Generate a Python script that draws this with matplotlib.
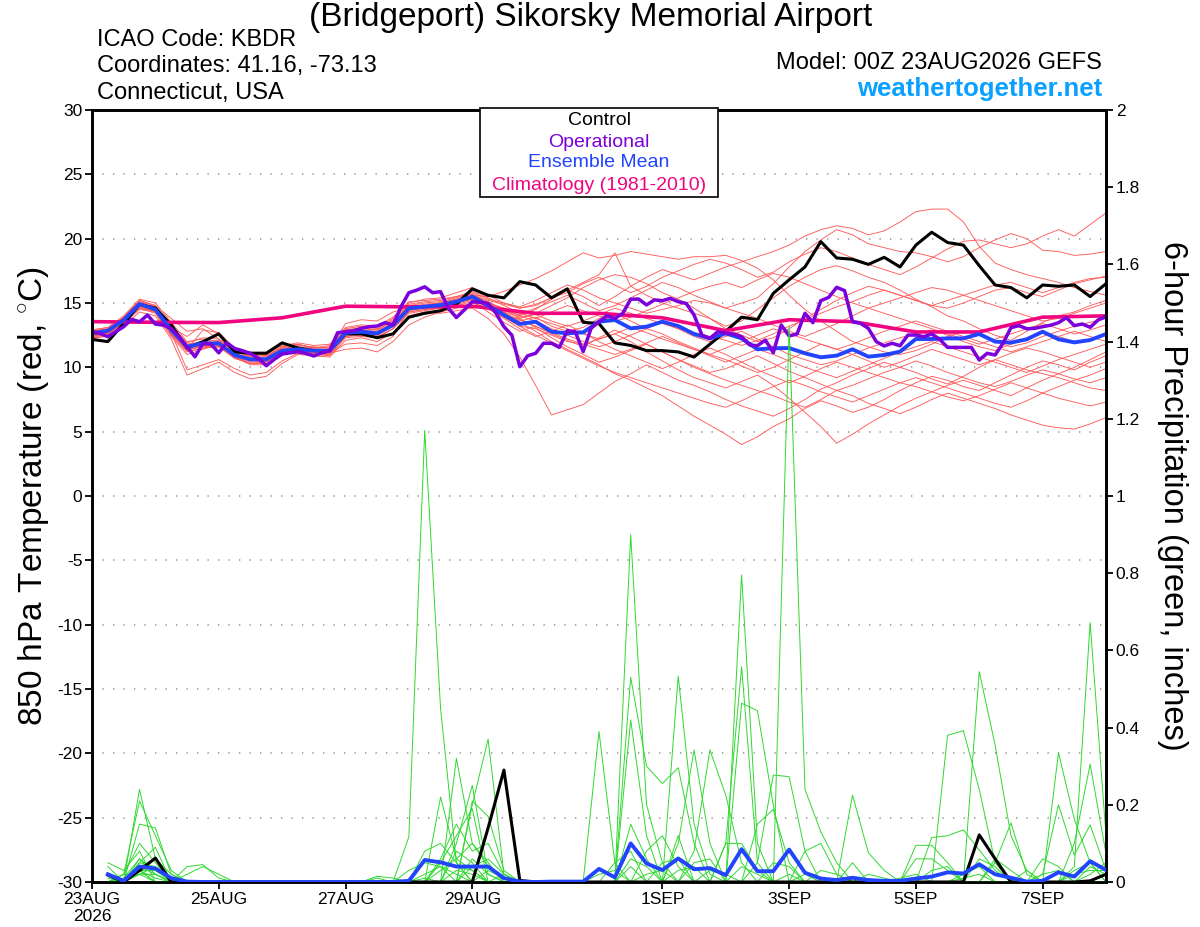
import numpy as np
import matplotlib
matplotlib.use('Agg')
import matplotlib.pyplot as plt
from matplotlib.patches import Rectangle

plt.rcParams['font.family'] = ['Liberation Sans', 'DejaVu Sans']
plt.rcParams['axes.unicode_minus'] = False
plt.rcParams['mathtext.fontset'] = 'custom'
plt.rcParams['mathtext.rm'] = 'Liberation Sans'

# ---------------- data ----------------
hours6 = np.arange(65) * 6          # 6-hourly, 0..384 h
hours3 = np.arange(129) * 3         # 3-hourly (operational)
precip_hours = np.arange(1, 65) * 6 # 6-h precip, 6..384 h
clim_hours = np.arange(17) * 24     # daily climatology

tick_hours = [0, 48, 96, 144, 216, 264, 312, 360]
tick_labels = ['23AUG\n2026', '25AUG', '27AUG', '29AUG', '1SEP', '3SEP', '5SEP', '7SEP']

climatology = [13.55, 13.5, 13.48, 13.85, 14.75, 14.7, 14.75, 14.2, 14.2,
               13.85, 12.85, 13.7, 13.55, 12.75, 12.75, 13.9, 14.0]

control_t = [12.17, 12.0, 13.4, 14.9, 14.6, 13.3, 11.5, 12.0, 12.6, 11.2, 11.1, 11.1, 11.9,
             11.5, 11.3, 11.3, 12.6, 12.6, 12.3, 12.6, 13.9, 14.2, 14.4, 14.9, 16.1, 15.6,
             15.4, 16.66, 16.4, 15.4, 16.1, 13.5, 13.4, 11.9, 11.7, 11.3, 11.3, 11.2, 10.8,
             11.8, 12.8, 13.9, 13.7, 15.75, 16.8, 17.8, 19.77, 18.5, 18.4, 18.0, 18.55, 17.8,
             19.5, 20.5, 19.7, 19.5, 17.9, 16.4, 16.2, 15.4, 16.4, 16.3, 16.4, 15.5, 16.5]

mean_t = [12.64, 12.84, 13.67, 14.92, 14.5, 12.9, 11.6, 11.86, 11.86, 10.95, 10.62, 10.62, 11.29,
          11.4, 11.29, 11.29, 12.69, 12.77, 12.64, 13.28, 14.58, 14.71, 14.84, 15.1, 15.49, 14.8,
          14.07, 13.37, 13.55, 12.77, 12.64, 12.72, 13.55, 13.68, 13.03, 13.16, 13.55, 13.21, 12.59,
          12.25, 12.64, 12.25, 11.4, 11.48, 11.5, 11.09, 10.78, 10.91, 11.4, 10.83, 10.96, 11.22,
          12.2, 12.2, 12.25, 12.25, 12.59, 12.0, 11.92, 12.18, 12.77, 12.18, 11.94, 12.12, 12.59]

operational_t = [12.77, 12.64, 12.38, 12.77, 13.16, 13.73, 13.54, 14.06, 13.36, 13.28,
                 13.03, 12.38, 11.6, 10.82, 11.86, 11.81, 11.13, 11.91, 11.47, 11.29,
                 11.08, 10.7, 10.12, 10.62, 11.03, 11.13, 11.21, 11.08, 10.88, 11.13,
                 11.29, 12.69, 12.77, 12.84, 13.03, 13.16, 13.21, 13.47, 13.29, 14.71,
                 15.8, 16.0, 16.26, 15.8, 15.88, 14.58, 13.87, 14.46, 15.1, 15.05,
                 14.97, 14.2, 13.16, 12.5, 10.05, 10.9, 11.09, 11.87, 11.87, 11.55,
                 12.85, 12.77, 11.22, 13.03, 13.55, 14.0, 13.8, 14.2, 15.29, 15.31,
                 14.85, 15.24, 15.18, 15.36, 15.1, 14.97, 14.07, 12.5, 12.25, 12.77,
                 12.64, 12.59, 12.38, 11.74, 11.68, 12.12, 11.14, 13.29, 12.44, 12.59,
                 14.2, 13.47, 15.18, 15.44, 16.22, 15.96, 13.55, 13.42, 13.03, 12.0,
                 11.66, 11.87, 11.68, 12.51, 12.51, 12.38, 12.59, 12.18, 11.55, 11.55,
                 11.55, 11.55, 10.57, 11.09, 10.96, 11.87, 13.08, 13.24, 13.0, 13.03,
                 13.16, 13.27, 13.47, 13.86, 13.24, 13.37, 13.11, 13.68, 13.94]

# ensemble member 850 hPa temperatures (6-hourly)
t_m01 = [12.9, 13.1, 14.0, 15.3, 15.0, 13.5, 12.0, 12.2, 12.0, 11.4, 11.0, 10.9, 11.6,
         11.8, 11.5, 11.7, 13.0, 13.2, 13.0, 13.8, 15.0, 15.3, 15.4, 15.8, 16.2, 15.6,
         15.0, 14.6, 14.9, 15.4, 15.8, 16.5, 17.0, 16.4, 15.8, 16.3, 17.0, 17.5, 18.0,
         18.4, 18.1, 17.6, 17.0, 17.4, 18.2, 18.8, 19.3, 19.0, 18.5, 18.0, 17.6, 17.2,
         17.8, 18.5, 19.2, 19.8, 19.9, 19.6, 19.3, 19.6, 20.2, 20.7, 20.2, 21.1, 22.0]
t_m02 = [12.4, 12.6, 13.5, 14.7, 14.3, 12.6, 11.2, 11.5, 11.6, 10.7, 10.3, 10.4, 11.0,
         11.2, 11.1, 11.0, 12.4, 12.6, 12.4, 13.0, 14.3, 14.5, 14.6, 15.0, 15.3, 14.9,
         14.6, 14.0, 14.5, 15.3, 16.0, 15.5, 14.8, 15.5, 16.3, 17.0, 17.6, 17.2, 16.8,
         17.3, 17.8, 18.2, 18.6, 19.0, 19.5, 20.2, 20.7, 21.0, 20.8, 20.3, 20.6, 21.3,
         22.1, 22.3, 22.3, 21.3, 19.4, 18.1, 17.6, 17.2, 16.9, 16.6, 16.2, 15.9, 15.6]
t_m03 = [12.8, 13.0, 13.9, 15.1, 14.8, 13.2, 11.9, 12.3, 12.2, 11.2, 10.8, 10.8, 11.5,
         11.6, 11.5, 11.6, 12.9, 13.0, 12.9, 13.6, 14.8, 15.0, 15.1, 15.4, 15.8, 15.3,
         15.0, 14.7, 15.2, 15.8, 16.4, 16.0, 15.4, 15.0, 14.6, 14.2, 14.5, 14.8, 15.2,
         15.0, 14.6, 15.0, 15.4, 16.5, 17.8, 19.0, 19.9, 20.7, 20.3, 19.6, 19.3, 19.0,
         18.9, 18.6, 18.2, 18.6, 19.3, 19.9, 20.4, 20.0, 19.1, 19.0, 18.7, 18.8, 19.0]
t_m04 = [12.2, 12.5, 13.4, 14.6, 14.2, 12.4, 11.0, 11.4, 11.8, 10.8, 10.2, 10.2, 11.0,
         11.1, 11.0, 11.0, 12.4, 12.5, 12.3, 13.0, 14.2, 14.4, 14.6, 14.8, 15.1, 14.5,
         14.0, 13.8, 14.2, 14.8, 15.4, 16.2, 16.8, 17.2, 17.0, 16.5, 15.8, 15.3, 14.6,
         13.8, 13.0, 12.5, 12.0, 12.3, 13.0, 13.8, 14.5, 15.2, 15.8, 16.3, 16.0, 15.6,
         15.2, 14.8, 14.6, 15.0, 15.5, 16.0, 16.2, 15.8, 15.5, 16.0, 16.5, 16.8, 17.1]
t_m05 = [12.7, 12.9, 13.8, 15.0, 14.7, 13.3, 11.8, 12.0, 12.1, 11.3, 10.9, 10.7, 11.4,
         11.5, 11.4, 11.4, 13.4, 13.7, 13.6, 14.3, 14.7, 14.9, 15.0, 15.3, 15.6, 15.5,
         15.9, 16.4, 16.9, 17.5, 18.2, 18.9, 18.5, 18.7, 19.0, 18.8, 18.6, 18.4, 18.6,
         18.6, 18.7, 18.3, 17.7, 16.8, 15.6, 14.5, 13.6, 12.8, 12.0, 11.6, 11.2, 11.0,
         11.3, 11.8, 12.4, 12.8, 12.5, 12.0, 11.6, 11.9, 12.4, 12.8, 13.2, 13.5, 13.8]
t_m06 = [12.5, 12.7, 13.6, 14.8, 14.6, 13.0, 11.5, 11.7, 11.7, 10.9, 10.5, 10.6, 11.3,
         11.4, 11.2, 11.3, 12.6, 12.8, 12.7, 13.4, 14.5, 14.6, 14.9, 15.2, 15.6, 15.2,
         14.9, 14.6, 14.8, 15.4, 16.0, 16.6, 17.2, 18.9, 16.3, 15.6, 15.0, 14.6, 14.2,
         13.8, 13.2, 13.6, 14.5, 15.4, 16.3, 17.0, 17.6, 17.9, 17.5, 17.0, 16.6, 16.0,
         15.3, 14.7, 14.0, 13.6, 13.0, 12.5, 12.1, 12.8, 13.5, 14.0, 14.3, 14.8, 15.2]
t_m07 = [12.3, 12.4, 13.2, 14.3, 14.0, 12.2, 9.4, 9.9, 10.4, 9.6, 9.1, 9.3, 10.3,
         11.0, 10.9, 10.8, 12.1, 12.3, 12.0, 12.7, 14.0, 14.3, 14.2, 14.4, 14.6, 13.8,
         12.6, 10.8, 8.6, 6.3, 6.7, 7.1, 8.0, 8.9, 9.5, 10.2, 9.6, 9.0, 8.6,
         8.1, 7.5, 7.0, 6.6, 6.2, 6.8, 7.5, 8.3, 8.8, 9.4, 9.9, 10.4, 10.0,
         9.6, 9.1, 8.7, 9.3, 10.0, 10.6, 10.2, 9.8, 9.5, 9.2, 8.8, 8.4, 8.2]
t_m08 = [12.6, 12.9, 13.9, 15.2, 14.8, 13.1, 12.4, 13.3, 12.6, 11.4, 10.9, 11.0, 11.7,
         11.9, 11.7, 11.8, 13.1, 13.3, 13.2, 13.9, 15.1, 15.2, 15.3, 15.5, 15.7, 15.0,
         14.3, 13.5, 12.8, 12.0, 11.4, 10.8, 10.2, 9.5, 9.0, 8.4, 7.8, 7.0, 6.2,
         5.5, 4.8, 4.0, 4.6, 5.4, 6.0, 6.8, 7.4, 7.0, 6.5, 6.9, 7.5, 8.2,
         8.8, 9.3, 9.0, 8.5, 8.2, 8.8, 9.4, 10.0, 10.5, 10.2, 9.8, 10.4, 10.9]
t_m09 = [12.4, 12.7, 13.5, 14.6, 14.4, 12.8, 11.3, 11.7, 11.6, 10.8, 10.4, 10.5, 11.2,
         11.3, 11.1, 11.2, 12.6, 12.7, 12.5, 13.2, 14.4, 14.6, 14.7, 15.0, 15.3, 14.6,
         13.9, 13.2, 13.0, 12.5, 12.0, 11.8, 12.2, 12.6, 12.0, 11.2, 10.5, 9.8, 9.2,
         8.8, 8.4, 8.9, 9.4, 8.6, 7.6, 6.5, 5.4, 4.1, 4.8, 5.6, 6.3, 7.0,
         7.6, 8.1, 8.6, 9.0, 8.6, 8.2, 7.8, 8.4, 9.0, 9.5, 10.0, 10.6, 11.2]
t_m10 = [12.5, 12.6, 13.4, 14.5, 14.3, 12.7, 9.8, 10.2, 10.6, 9.9, 9.4, 9.6, 10.5,
         11.1, 11.0, 10.9, 12.3, 12.4, 12.3, 13.0, 14.3, 14.5, 14.6, 14.9, 15.2, 14.3,
         13.5, 12.8, 13.2, 12.6, 12.1, 11.6, 12.3, 12.9, 12.4, 11.8, 11.2, 10.6, 10.0,
         9.5, 9.0, 8.6, 8.2, 7.8, 7.3, 6.9, 7.5, 8.2, 7.8, 7.2, 6.8, 6.4,
         6.9, 7.5, 8.0, 7.6, 7.2, 6.8, 6.3, 5.9, 5.5, 5.3, 5.2, 5.6, 6.1]
t_m11 = [12.7, 12.8, 13.6, 14.8, 14.6, 13.0, 11.6, 11.8, 12.0, 11.1, 10.7, 10.7, 11.4,
         11.5, 11.3, 11.4, 12.7, 12.8, 12.6, 13.3, 14.6, 14.8, 14.9, 15.2, 15.5, 14.9,
         14.2, 13.6, 13.9, 13.2, 12.8, 13.1, 13.8, 14.2, 13.6, 13.0, 13.5, 13.0, 12.4,
         12.0, 12.4, 12.8, 12.2, 11.6, 11.0, 10.6, 10.2, 10.5, 11.0, 11.5, 11.9, 12.3,
         12.6, 12.9, 12.5, 12.0, 11.6, 11.3, 11.8, 12.3, 12.7, 12.4, 12.0, 12.2, 12.6]
t_m12 = [12.9, 13.1, 13.8, 14.9, 14.4, 12.6, 11.4, 12.9, 12.7, 11.5, 11.1, 10.9, 11.5,
         11.7, 11.6, 11.5, 12.8, 12.9, 12.8, 13.5, 14.7, 14.8, 15.0, 15.3, 15.7, 15.1,
         14.5, 13.8, 13.1, 12.3, 11.6, 11.0, 10.4, 10.8, 11.3, 11.8, 11.2, 10.6, 10.1,
         9.6, 9.9, 10.4, 10.9, 10.3, 9.7, 9.2, 8.7, 8.2, 8.6, 9.1, 9.6, 10.0,
         10.5, 10.1, 9.6, 9.2, 8.8, 8.5, 8.9, 9.4, 9.8, 9.5, 9.1, 8.8, 9.2]
t_m13 = [12.6, 12.7, 13.7, 14.9, 14.5, 12.8, 11.4, 11.6, 11.8, 11.0, 10.5, 10.6, 11.3,
         11.4, 11.3, 11.2, 12.6, 12.7, 12.6, 13.3, 14.6, 14.7, 14.8, 15.1, 15.4, 14.9,
         14.4, 14.1, 14.6, 15.1, 15.6, 15.0, 14.4, 14.8, 15.4, 16.0, 16.6, 16.2, 15.6,
         15.1, 14.6, 14.2, 13.8, 13.3, 12.8, 12.4, 12.9, 13.4, 14.0, 14.6, 15.0, 15.4,
         15.8, 16.2, 16.0, 15.6, 15.2, 14.8, 14.4, 14.0, 13.6, 13.8, 14.2, 14.6, 15.0]
t_m14 = [12.3, 12.6, 13.6, 14.8, 14.3, 12.5, 11.2, 11.5, 11.6, 10.7, 10.3, 10.3, 11.0,
         11.2, 11.1, 11.1, 11.4, 11.5, 11.2, 12.0, 13.3, 13.9, 14.3, 14.6, 15.0, 14.6,
         13.8, 13.0, 12.4, 12.8, 13.3, 12.7, 12.0, 11.4, 10.9, 10.4, 9.9, 10.4, 11.0,
         11.5, 11.0, 10.4, 9.8, 9.3, 8.8, 9.3, 9.9, 10.4, 10.0, 9.6, 9.2, 8.8,
         8.5, 8.1, 7.7, 7.4, 7.8, 8.3, 8.8, 8.4, 8.0, 7.6, 7.3, 7.0, 7.3]
t_m15 = [12.8, 13.0, 13.9, 15.2, 14.8, 13.8, 12.8, 13.0, 12.2, 11.3, 10.8, 10.8, 11.6,
         11.8, 11.5, 11.5, 12.9, 13.1, 12.9, 13.7, 14.9, 15.1, 15.2, 15.5, 15.9, 15.4,
         14.8, 14.2, 13.8, 14.3, 14.8, 14.4, 14.0, 13.6, 13.9, 14.4, 14.9, 15.4, 15.9,
         16.3, 16.6, 16.2, 16.8, 17.3, 17.0, 16.5, 16.0, 15.5, 15.0, 14.6, 14.2, 13.8,
         13.4, 13.0, 12.6, 12.2, 11.8, 12.2, 12.6, 13.0, 13.4, 13.0, 12.6, 12.9, 13.3]
t_m16 = [12.5, 12.8, 13.7, 14.9, 14.6, 13.0, 11.7, 12.0, 11.7, 10.9, 10.6, 10.5, 11.2,
         11.3, 11.2, 11.3, 12.7, 12.8, 12.6, 13.3, 14.6, 14.7, 14.8, 15.1, 15.5, 15.0,
         14.5, 14.0, 13.6, 13.0, 12.5, 12.0, 11.6, 12.0, 12.5, 13.0, 12.6, 12.0, 11.5,
         11.0, 10.6, 10.1, 9.6, 10.0, 10.6, 11.2, 11.8, 11.4, 11.0, 10.5, 10.0, 10.4,
         10.9, 11.4, 11.0, 10.6, 10.2, 10.6, 11.1, 11.5, 11.2, 10.8, 10.4, 10.0, 10.4]
t_m17 = [12.4, 12.7, 13.6, 14.8, 14.4, 12.8, 11.5, 11.8, 11.9, 11.0, 10.5, 10.5, 11.2,
         11.4, 11.3, 11.3, 12.7, 12.8, 12.6, 13.3, 14.6, 14.7, 14.8, 15.1, 15.4, 14.9,
         14.3, 13.9, 14.1, 13.6, 13.2, 13.6, 14.1, 14.6, 14.2, 13.8, 13.4, 13.0, 12.7,
         12.4, 12.1, 11.7, 12.1, 12.6, 13.2, 13.7, 14.2, 14.7, 15.1, 15.6, 16.0, 15.6,
         15.2, 14.8, 15.2, 15.6, 16.0, 16.4, 16.6, 16.2, 15.8, 16.2, 16.6, 16.9, 17.0]
t_m18 = [12.6, 12.8, 13.7, 14.9, 14.5, 12.9, 11.6, 11.9, 11.8, 10.9, 10.6, 10.6, 11.3,
         11.4, 11.3, 11.3, 12.7, 12.8, 12.7, 13.4, 14.7, 14.8, 14.9, 15.2, 15.6, 14.7,
         13.9, 13.2, 12.5, 11.9, 11.3, 10.7, 10.1, 9.6, 9.2, 8.8, 8.4, 8.0, 7.6,
         7.2, 6.9, 7.4, 8.0, 8.5, 9.0, 8.6, 8.1, 7.7, 7.3, 7.8, 8.3, 8.8,
         9.2, 8.8, 8.4, 8.0, 7.6, 7.2, 6.9, 7.4, 8.0, 8.5, 9.0, 9.4, 9.9]
t_m19 = [12.7, 12.9, 13.8, 15.0, 14.6, 12.9, 11.6, 11.8, 11.9, 11.1, 10.6, 10.7, 11.4,
         11.5, 11.4, 11.4, 12.8, 12.9, 12.7, 13.4, 14.7, 14.8, 14.9, 15.2, 15.6, 15.0,
         14.6, 14.2, 13.8, 13.4, 13.0, 12.6, 12.2, 12.6, 13.1, 12.7, 12.2, 11.8, 11.4,
         11.0, 11.5, 12.0, 12.5, 13.0, 12.6, 12.2, 11.8, 11.4, 11.8, 12.3, 12.8, 13.2,
         13.6, 13.2, 12.8, 12.4, 12.0, 11.6, 11.2, 11.6, 12.0, 12.4, 12.8, 12.4, 12.0]
t_m20 = [12.4, 12.6, 13.5, 14.7, 14.3, 12.7, 11.4, 11.6, 11.7, 10.8, 10.3, 10.4, 11.1,
         11.3, 11.1, 11.1, 11.8, 11.9, 11.7, 12.4, 14.5, 14.6, 14.7, 15.0, 15.4, 14.8,
         14.2, 13.7, 13.2, 12.7, 12.2, 11.8, 11.4, 11.0, 11.4, 11.9, 12.4, 11.9, 11.4,
         10.9, 10.4, 10.9, 11.4, 11.0, 10.5, 10.0, 9.6, 9.2, 9.7, 10.2, 10.7, 11.2,
         11.6, 12.0, 11.6, 11.2, 10.8, 10.4, 10.0, 9.6, 10.1, 10.6, 11.0, 11.4, 11.8]

temp_members = [t_m01, t_m02, t_m03, t_m04, t_m05, t_m06, t_m07, t_m08, t_m09, t_m10,
                t_m11, t_m12, t_m13, t_m14, t_m15, t_m16, t_m17, t_m18, t_m19, t_m20]

# 6-hour precipitation (inches), valid 6..384 h
control_p = [0.018, 0, 0.03, 0.062, 0, 0, 0, 0, 0, 0, 0, 0, 0, 0, 0, 0,
             0, 0, 0, 0, 0, 0, 0, 0, 0.14, 0.29, 0.004, 0, 0, 0, 0, 0,
             0, 0, 0, 0, 0, 0, 0, 0, 0, 0, 0, 0, 0, 0, 0, 0,
             0, 0, 0, 0, 0, 0, 0, 0.122, 0.06, 0, 0, 0, 0, 0, 0.003, 0.02]
mean_p = [0.02, 0.003, 0.04, 0.035, 0.01, 0.001, 0, 0, 0, 0, 0, 0, 0, 0, 0, 0,
          0, 0, 0, 0.003, 0.057, 0.051, 0.04, 0.04, 0.04, 0.01, 0.001, 0, 0.001, 0.001, 0.001, 0.034,
          0.012, 0.1, 0.048, 0.031, 0.061, 0.033, 0.036, 0.018, 0.085, 0.028, 0.028, 0.084, 0.024, 0.009, 0.005, 0.011,
          0.005, 0.003, 0.003, 0.009, 0.014, 0.025, 0.022, 0.046, 0.02, 0.011, 0.001, 0.003, 0.025, 0.014, 0.054, 0.031]

p_g01 = [0, 0, 0.24, 0.06, 0, 0, 0, 0, 0, 0, 0, 0, 0, 0, 0, 0,
         0, 0, 0, 0.117, 1.17, 0.45, 0.05, 0, 0, 0, 0, 0, 0, 0, 0, 0,
         0, 0.9, 0.2, 0.05, 0, 0, 0, 0, 0, 0, 0, 0.02, 0, 0, 0, 0,
         0, 0, 0, 0, 0, 0, 0, 0.545, 0.355, 0.12, 0.03, 0, 0, 0, 0, 0]
p_g02 = [0, 0.02, 0.21, 0.12, 0.03, 0, 0, 0, 0, 0, 0, 0, 0, 0, 0, 0,
         0, 0, 0, 0, 0, 0.22, 0.06, 0.03, 0, 0, 0, 0, 0, 0, 0, 0,
         0, 0, 0, 0, 0.533, 0.15, 0.02, 0, 0.795, 0.1, 0, 0, 0, 0, 0, 0,
         0, 0, 0, 0, 0, 0, 0, 0, 0, 0, 0, 0, 0, 0.04, 0.672, 0.12]
p_g03 = [0, 0, 0.15, 0.14, 0.02, 0, 0, 0, 0, 0, 0, 0, 0, 0, 0, 0,
         0, 0, 0, 0, 0, 0, 0.32, 0.1, 0.04, 0, 0, 0, 0, 0, 0, 0,
         0, 0.53, 0.3, 0.255, 0.296, 0.1, 0, 0, 0.463, 0.444, 0.2, 0, 0, 0, 0, 0,
         0, 0, 0, 0, 0, 0.38, 0.392, 0.24, 0.05, 0, 0, 0, 0, 0, 0, 0]
p_g04 = [0.05, 0.03, 0.08, 0, 0, 0, 0, 0, 0, 0, 0, 0, 0, 0, 0, 0,
         0, 0, 0, 0, 0, 0, 0, 0.2, 0.37, 0.02, 0, 0, 0, 0, 0, 0,
         0, 0, 0, 0, 0, 0, 0, 0, 0, 0, 0, 1.44, 0.24, 0.13, 0.05, 0,
         0, 0, 0, 0, 0, 0, 0, 0, 0, 0, 0, 0, 0.335, 0.163, 0.05, 0]
p_g05 = [0.04, 0, 0.06, 0.03, 0, 0, 0, 0, 0, 0, 0, 0, 0, 0, 0, 0,
         0, 0, 0, 0, 0, 0, 0.1, 0.25, 0.02, 0, 0, 0, 0, 0, 0, 0.39,
         0.05, 0, 0, 0, 0, 0, 0, 0.1, 0.558, 0.05, 0, 0, 0, 0, 0, 0.225,
         0.076, 0.03, 0, 0, 0, 0, 0, 0, 0, 0, 0, 0, 0, 0, 0, 0]
p_g06 = [0, 0, 0.05, 0.09, 0, 0, 0, 0, 0, 0, 0, 0, 0, 0, 0, 0,
         0, 0, 0, 0, 0, 0.05, 0.12, 0.19, 0, 0, 0, 0, 0, 0, 0, 0,
         0, 0.42, 0.12, 0, 0.1, 0.342, 0.1, 0, 0, 0, 0, 0, 0, 0, 0, 0,
         0, 0, 0, 0, 0, 0, 0, 0, 0, 0, 0, 0, 0, 0.1, 0.305, 0.073]
p_g07 = [0, 0, 0.03, 0, 0, 0.04, 0.045, 0.01, 0, 0, 0, 0, 0, 0, 0, 0,
         0, 0, 0, 0, 0, 0, 0, 0.21, 0.17, 0.03, 0, 0, 0, 0, 0, 0,
         0, 0, 0, 0, 0, 0.08, 0.342, 0.225, 0.05, 0, 0, 0, 0, 0, 0, 0,
         0, 0, 0, 0, 0.115, 0.12, 0.135, 0.083, 0.03, 0, 0, 0, 0, 0, 0, 0]
p_g08 = [0, 0.02, 0.1, 0.05, 0, 0, 0, 0, 0, 0, 0, 0, 0, 0, 0, 0,
         0, 0, 0, 0, 0.08, 0.1, 0.05, 0, 0, 0, 0, 0, 0, 0, 0, 0,
         0, 0, 0, 0, 0.12, 0, 0, 0, 0, 0.05, 0.277, 0.273, 0.08, 0, 0, 0,
         0, 0, 0, 0.095, 0.095, 0.05, 0, 0, 0, 0, 0, 0.02, 0.2, 0.07, 0.148, 0.03]
p_g09 = [0, 0, 0.04, 0.02, 0, 0, 0, 0, 0, 0, 0, 0, 0, 0, 0, 0,
         0, 0, 0, 0, 0, 0.06, 0.15, 0.08, 0.1, 0.02, 0, 0, 0, 0, 0, 0,
         0, 0, 0.08, 0.12, 0.04, 0, 0, 0, 0, 0.15, 0.188, 0.05, 0, 0, 0, 0.05,
         0, 0, 0, 0, 0, 0, 0, 0.06, 0.04, 0, 0, 0, 0, 0, 0.02, 0.05]
p_g10 = [0.02, 0, 0.05, 0.04, 0, 0, 0, 0, 0, 0, 0, 0, 0, 0, 0, 0,
         0, 0, 0, 0.03, 0.05, 0.04, 0, 0, 0, 0, 0, 0, 0, 0, 0, 0,
         0, 0.15, 0.06, 0, 0, 0, 0, 0, 0, 0, 0, 0, 0.08, 0.1, 0.02, 0,
         0, 0, 0, 0, 0, 0, 0, 0, 0, 0, 0, 0.06, 0.04, 0, 0, 0.02]
p_g11 = [0, 0.01, 0.03, 0.03, 0.01, 0, 0, 0, 0, 0, 0, 0, 0, 0, 0, 0,
         0, 0, 0, 0, 0, 0, 0.08, 0.05, 0, 0.02, 0, 0, 0, 0, 0, 0,
         0.05, 0.08, 0, 0, 0, 0, 0, 0, 0, 0, 0, 0, 0, 0, 0, 0,
         0, 0, 0, 0.06, 0.06, 0.03, 0, 0, 0, 0, 0, 0, 0, 0.03, 0.05, 0]
p_g12 = [0, 0, 0.02, 0.04, 0, 0, 0, 0, 0, 0, 0, 0, 0, 0, 0, 0,
         0, 0.015, 0.01, 0, 0, 0.03, 0.06, 0.1, 0.05, 0, 0, 0, 0, 0, 0, 0,
         0, 0, 0, 0.05, 0.06, 0, 0, 0.1, 0.1, 0.03, 0, 0, 0, 0, 0, 0,
         0, 0, 0, 0, 0, 0, 0.02, 0.04, 0, 0, 0.03, 0, 0, 0, 0, 0]
p_g13 = [0, 0, 0.03, 0, 0, 0.02, 0.04, 0.02, 0, 0, 0, 0, 0, 0, 0, 0,
         0, 0, 0, 0, 0.02, 0.04, 0.02, 0, 0, 0, 0, 0, 0, 0, 0, 0,
         0, 0, 0, 0, 0, 0.05, 0.06, 0, 0, 0, 0, 0, 0, 0.03, 0.02, 0,
         0, 0, 0, 0, 0.03, 0.04, 0, 0, 0, 0, 0, 0.02, 0.03, 0, 0, 0]
p_g14 = [0, 0.01, 0.06, 0.02, 0, 0, 0, 0, 0, 0, 0, 0, 0, 0, 0, 0,
         0, 0, 0, 0, 0, 0, 0, 0.04, 0.06, 0.02, 0, 0, 0, 0, 0, 0,
         0, 0.06, 0.04, 0, 0, 0, 0, 0, 0, 0, 0.05, 0.04, 0, 0, 0, 0,
         0, 0, 0, 0, 0, 0, 0, 0, 0.06, 0.03, 0, 0, 0, 0, 0.04, 0.02]
p_g15 = [0.01, 0, 0.02, 0.02, 0, 0, 0, 0, 0, 0, 0, 0, 0, 0, 0, 0,
         0, 0.01, 0, 0, 0, 0, 0.03, 0.02, 0, 0, 0, 0, 0, 0, 0, 0.02,
         0.03, 0, 0, 0, 0, 0, 0, 0, 0.04, 0.02, 0, 0, 0, 0, 0, 0,
         0.02, 0.01, 0, 0, 0, 0, 0, 0, 0.05, 0.153, 0.02, 0, 0, 0, 0, 0]
p_g16 = [0, 0, 0.04, 0.06, 0.02, 0, 0, 0, 0, 0, 0, 0, 0, 0, 0, 0,
         0, 0, 0, 0, 0, 0.05, 0.04, 0.03, 0, 0, 0, 0, 0, 0, 0, 0,
         0, 0, 0, 0, 0.03, 0.04, 0, 0, 0, 0, 0, 0, 0.02, 0, 0, 0,
         0, 0, 0.01, 0.02, 0, 0, 0, 0, 0, 0, 0, 0, 0, 0, 0, 0]
p_g17 = [0, 0, 0.03, 0.01, 0, 0, 0, 0, 0, 0, 0, 0, 0, 0, 0, 0,
         0, 0, 0, 0, 0, 0, 0, 0, 0.03, 0.01, 0, 0, 0, 0, 0, 0,
         0, 0.04, 0, 0, 0, 0, 0.03, 0.02, 0, 0, 0, 0, 0, 0, 0, 0,
         0, 0, 0, 0, 0, 0, 0.01, 0.02, 0, 0, 0, 0, 0, 0, 0, 0]
p_g18 = [0, 0.02, 0.02, 0, 0, 0, 0, 0, 0, 0, 0, 0, 0, 0, 0, 0,
         0, 0, 0, 0, 0.01, 0, 0, 0.06, 0.02, 0, 0, 0, 0, 0, 0, 0,
         0, 0, 0.02, 0.03, 0, 0, 0, 0, 0, 0, 0, 0, 0, 0, 0, 0,
         0, 0, 0, 0, 0, 0, 0, 0, 0, 0, 0, 0, 0, 0.02, 0.03, 0.03]

precip_members = [p_g01, p_g02, p_g03, p_g04, p_g05, p_g06, p_g07, p_g08, p_g09,
                  p_g10, p_g11, p_g12, p_g13, p_g14, p_g15, p_g16, p_g17, p_g18]

for name, arr, n in [('control_t', control_t, 65), ('mean_t', mean_t, 65),
                     ('operational_t', operational_t, 129), ('control_p', control_p, 64),
                     ('mean_p', mean_p, 64)]:
    if len(arr) != n:
        raise ValueError(f'{name} has {len(arr)}')
for k, m in enumerate(temp_members):
    if len(m) != 65:
        raise ValueError(f'temp member {k+1} has {len(m)}')
for k, m in enumerate(precip_members):
    if len(m) != 64:
        raise ValueError(f'precip member {k+1} has {len(m)}')

# ---------------- styling ----------------
RED = '#FF5A5A'
GREEN = '#2FD82F'
PURPLE = '#7B00DC'
BLUE = '#2244FF'
MAGENTA = '#F0047F'
SPINE_W = 1.9

fig = plt.figure(figsize=(12, 9.27), dpi=100)
ax = fig.add_axes([0.07667, 0.04854, 0.845, 0.8328])
ax2 = ax.twinx()

for m in temp_members:
    ax.plot(hours6, m, color=RED, lw=0.65, zorder=1)
ax.plot(hours6, control_t, color='black', lw=2.2, zorder=3)
ax.plot(clim_hours, climatology, color=MAGENTA, lw=2.6, zorder=4)
ax.plot(hours6, mean_t, color=BLUE, lw=2.8, zorder=5)
ax.plot(hours3, operational_t, color=PURPLE, lw=2.5, zorder=6)

for m in precip_members:
    ax2.plot(precip_hours, m, color=GREEN, lw=0.7, zorder=1)
ax2.plot(precip_hours, mean_p, color=BLUE, lw=2.8, zorder=4)
ax2.plot(precip_hours, control_p, color='black', lw=2.2, zorder=3)

ax.set_xlim(0, 384)
ax.set_ylim(-30, 30)
ax2.set_ylim(0, 2)

ax.set_yticks(np.arange(-30, 31, 5))
ax.set_yticklabels([str(v) for v in range(-30, 31, 5)])
ax.yaxis.grid(True, linestyle=(0, (0.8, 5.5)), color='#9a9a9a', linewidth=1.2)
ax.set_axisbelow(True)

rt = np.round(np.arange(0, 2.01, 0.2), 1)
ax2.set_yticks(rt)
ax2.set_yticklabels(['%g' % v for v in rt])

ax.set_xticks(tick_hours)
ax.set_xticklabels(tick_labels)

for a in (ax, ax2):
    for s in a.spines.values():
        s.set_linewidth(SPINE_W)
    a.tick_params(direction='out', length=5, width=1.3, labelsize=12.5, pad=2)

fig.text(0.028, 0.465, '850 hPa Temperature (red, $^{\\circ}$C)', rotation=90,
         ha='center', va='center', fontsize=24)
fig.text(0.977, 0.465, '6-hour Precipitation (green, inches)', rotation=270,
         ha='center', va='center', fontsize=23.5)

fig.text(0.492, 0.9806, '(Bridgeport) Sikorsky Memorial Airport', ha='center',
         va='center', fontsize=24)
fig.text(0.0808, 0.9568, 'ICAO Code: KBDR', ha='left', va='center', fontsize=17)
fig.text(0.0808, 0.9288, 'Coordinates: 41.16, -73.13', ha='left', va='center', fontsize=17)
fig.text(0.0808, 0.8997, 'Connecticut, USA', ha='left', va='center', fontsize=17)
fig.text(0.9183, 0.932, 'Model: 00Z 23AUG2026 GEFS', ha='right', va='center', fontsize=17)
fig.text(0.9183, 0.904, 'weathertogether.net', ha='right', va='center', fontsize=18.5,
         fontweight='bold', color='#0AA0FF')

# legend box
box = Rectangle((0.4, 0.7875), 0.198, 0.096, transform=fig.transFigure,
                facecolor='white', edgecolor='black', lw=1.2, zorder=10)
fig.add_artist(box)
leg_items = [('Control', 'black', 0.8695), ('Operational', PURPLE, 0.8468),
             ('Ensemble Mean', BLUE, 0.8242), ('Climatology (1981-2010)', MAGENTA, 0.8004)]
for txt, col, yy in leg_items:
    fig.text(0.4992, yy, txt, color=col, ha='center', va='center', fontsize=14, zorder=11)

fig.savefig('out.png', dpi=100)
